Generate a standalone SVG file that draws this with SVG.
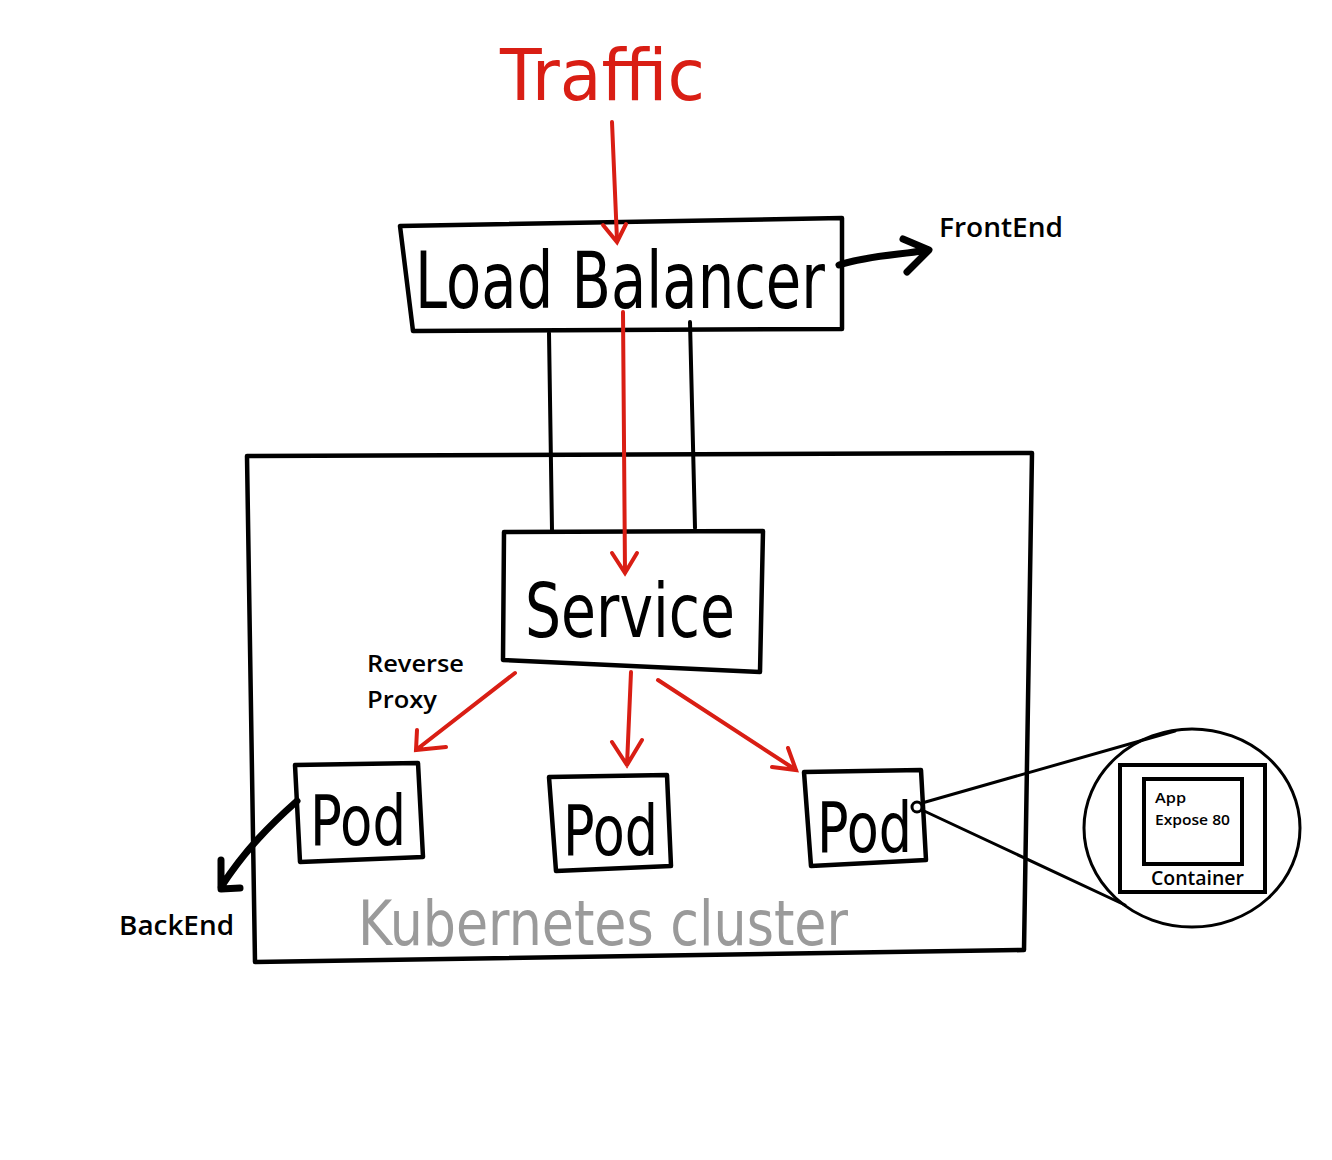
<svg xmlns="http://www.w3.org/2000/svg" width="1332" height="1160" viewBox="0 0 1332 1160">
<style>
.hand{font-family:"DejaVu Sans","Liberation Sans",sans-serif;fill:#000}
.lbl{font-family:"Open Sans","Liberation Sans",sans-serif;font-weight:600;fill:#000}
.box{fill:none;stroke:#000;stroke-width:4.5;stroke-linejoin:round;stroke-linecap:round}
.red{fill:none;stroke:#d91e14;stroke-width:4;stroke-linecap:round}
.blk{fill:none;stroke:#000;stroke-width:4;stroke-linecap:round}
.thick{fill:none;stroke:#000;stroke-width:7;stroke-linecap:round;stroke-linejoin:round}
</style>
<rect width="1332" height="1160" fill="#fff"/>
<g id="traffic"><text class="hand" x="500" y="100" font-size="72" style="fill:#d91e14" textLength="205" lengthAdjust="spacingAndGlyphs">Traffic</text></g>
<g id="load-balancer">
<path class="box" d="M400,226 L842,218 L842,329 L413,331 Z"/>
<text class="hand" x="415" y="308" font-size="78" textLength="410" lengthAdjust="spacingAndGlyphs">Load Balancer</text>
</g>
<g id="frontend"><text class="lbl" x="939" y="237" font-size="27" textLength="124" lengthAdjust="spacingAndGlyphs">FrontEnd</text></g>
<g id="cluster">
<path class="box" d="M247,456 L1032,453 L1024,950 L255,962 Z"/>
<text class="hand" x="358" y="945" font-size="62" style="fill:#9a9a9a" textLength="490" lengthAdjust="spacingAndGlyphs">Kubernetes cluster</text>
</g>
<g id="service">
<path class="box" d="M504,532 L763,531 L760,672 L503,660 Z"/>
<text class="hand" x="525" y="637" font-size="74" textLength="210" lengthAdjust="spacingAndGlyphs">Service</text>
</g>
<g id="reverse-proxy"><text class="lbl" x="367" y="672" font-size="24" textLength="97" lengthAdjust="spacingAndGlyphs">Reverse</text><text class="lbl" x="367" y="708" font-size="24" textLength="70" lengthAdjust="spacingAndGlyphs">Proxy</text></g>
<g id="pod1"><path class="box" d="M295,765 L418,763 L423,857 L300,862 Z"/><text class="hand" x="310" y="845" font-size="70" textLength="96" lengthAdjust="spacingAndGlyphs">Pod</text></g>
<g id="pod2"><path class="box" d="M549,777 L667,775 L671,866 L556,871 Z"/><text class="hand" x="563" y="855" font-size="70" textLength="95" lengthAdjust="spacingAndGlyphs">Pod</text></g>
<g id="pod3"><path class="box" d="M804,772 L921,770 L926,860 L811,866 Z"/><text class="hand" x="817" y="852" font-size="70" textLength="95" lengthAdjust="spacingAndGlyphs">Pod</text></g>
<g id="backend"><text class="lbl" x="119" y="935" font-size="27" textLength="115" lengthAdjust="spacingAndGlyphs">BackEnd</text></g>
<g id="container-detail">
<ellipse cx="1192" cy="828" rx="108" ry="99" fill="none" stroke="#000" stroke-width="3"/>
<rect x="1120" y="765" width="145" height="127" fill="none" stroke="#000" stroke-width="4"/>
<rect x="1144" y="779" width="98" height="85" fill="none" stroke="#000" stroke-width="4"/>
<text class="lbl" x="1155" y="803" font-size="15" textLength="31" lengthAdjust="spacingAndGlyphs">App</text>
<text class="lbl" x="1155" y="825" font-size="15" textLength="75" lengthAdjust="spacingAndGlyphs">Expose 80</text>
<text class="lbl" x="1151" y="885" font-size="20" textLength="93" lengthAdjust="spacingAndGlyphs">Container</text>
</g>
<g id="connectors">
<path class="red" d="M612,122 L617,240"/>
<path class="red" d="M603,225 L617,242 L626,224"/>
<path class="blk" d="M549,333 L552,530"/>
<path class="blk" d="M690,322 L695,528"/>
<path class="red" d="M623,312 L625,572"/>
<path class="red" d="M612,553 L625,573 L637,553"/>
<path class="thick" d="M839,265 C870,255 900,255 928,250 M903,239 L929,250 L907,272"/>
<path class="red" d="M515,673 L416,750 M417,730 L416,750 L446,747"/>
<path class="red" d="M631,672 L627,765 M612,742 L627,765 L642,740"/>
<path class="red" d="M658,680 L796,770 M772,767 L796,770 L788,748"/>
<path class="thick" d="M297,801 C270,825 245,850 221,887 M221,860 L221,889 L240,888"/>
<circle cx="917" cy="807" r="5" fill="none" stroke="#000" stroke-width="3"/>
<path class="blk" d="M922,803 L1175,731" style="stroke-width:3"/>
<path class="blk" d="M922,810 L1125,905" style="stroke-width:3"/>
</g>
</svg>
